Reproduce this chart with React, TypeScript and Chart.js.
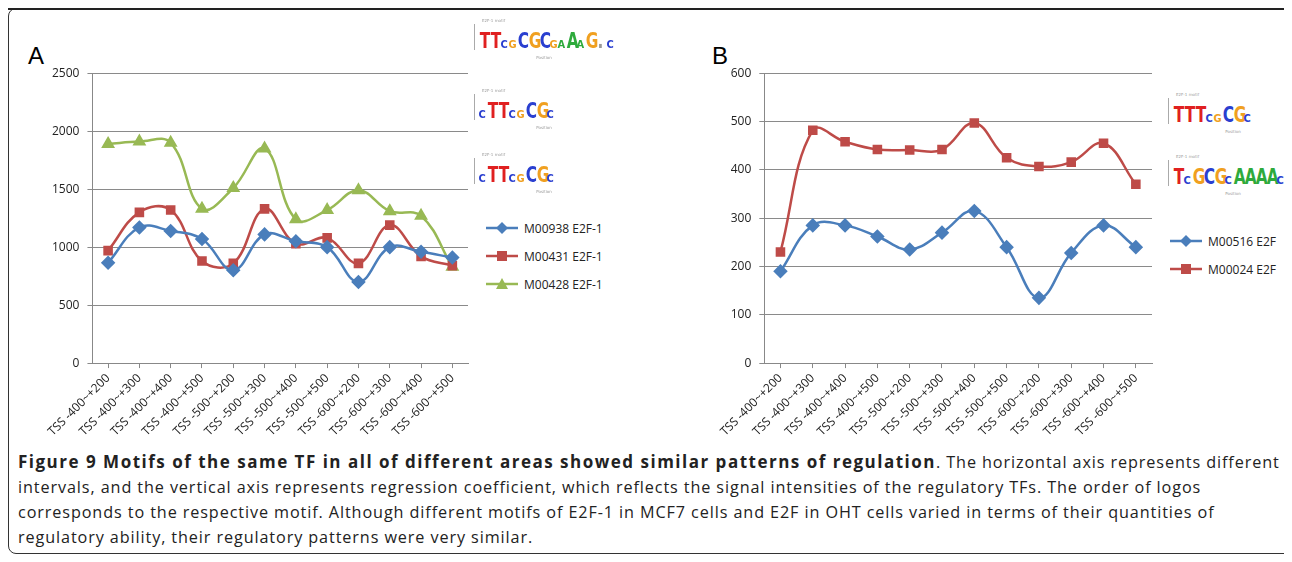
import { useEffect, useRef } from "react";
import { Chart } from "chart.js/auto";

const categories = [
  "TSS -400~+200", "TSS -400~+300", "TSS -400~+400", "TSS -400~+500",
  "TSS -500~+200", "TSS -500~+300", "TSS -500~+400", "TSS -500~+500",
  "TSS -600~+200", "TSS -600~+300", "TSS -600~+400", "TSS -600~+500",
];
const m00938 = [865, 1170, 1140, 1070, 800, 1110, 1050, 1000, 700, 1000, 960, 910];
const m00431 = [970, 1300, 1320, 880, 860, 1330, 1030, 1080, 860, 1190, 920, 840];
const m00428 = [1890, 1910, 1900, 1330, 1510, 1850, 1240, 1320, 1490, 1310, 1270, 830];
const m00516 = [190, 285, 285, 262, 235, 270, 315, 240, 135, 228, 285, 240];
const m00024 = [230, 482, 458, 442, 441, 442, 497, 425, 407, 416, 455, 370];

const BLUE = "#4a7ebb";
const RED = "#be4b48";
const GREEN = "#98b954";
const FONT = "'Open Sans', sans-serif";

type S = { label: string; data: number[]; color: string; point: "rectRot" | "rect" | "triangle" };

function LineChart({ series, max, step, style }: { series: S[]; max: number; step: number; style: React.CSSProperties }) {
  const ref = useRef<HTMLCanvasElement | null>(null);
  useEffect(() => {
    if (!ref.current) return;
    const chart = new Chart(ref.current, {
      type: "line",
      data: {
        labels: categories,
        datasets: series.map((s) => ({
          label: s.label,
          data: s.data,
          borderColor: s.color,
          backgroundColor: s.color,
          borderWidth: 2.5,
          tension: 0.4,
          pointStyle: s.point,
          pointRadius: s.point === "rect" ? 5 : 5.5,
        })),
      },
      options: {
        animation: false,
        responsive: false,
        layout: { padding: { top: 8, right: 4 } },
        plugins: { legend: { display: false }, tooltip: { enabled: false } },
        scales: {
          x: {
            offset: true,
            grid: { drawOnChartArea: false, color: "#888", tickLength: 5 },
            border: { color: "#888" },
            ticks: { color: "#222", font: { family: FONT, size: 12 }, maxRotation: 45, minRotation: 45 },
          },
          y: {
            min: 0,
            max,
            ticks: { stepSize: step, color: "#222", font: { family: FONT, size: 12 }, padding: 8, callback: (v) => String(v) },
            grid: { color: "#8a8a8a", tickLength: 5 },
            border: { color: "#888" },
          },
        },
      },
    });
    return () => chart.destroy();
  }, []);
  return <canvas ref={ref} width={style.width as number} height={style.height as number} style={{ position: "absolute", ...style }} />;
}

function Legend({ series, left, top }: { series: S[]; left: number; top: number }) {
  return (
    <div style={{ position: "absolute", left, top, fontFamily: FONT, fontSize: 12, color: "#222" }}>
      {series.map((s) => (
        <div key={s.label} style={{ display: "flex", alignItems: "center", height: 28 }}>
          <svg width="32" height="12" style={{ marginRight: 6 }}>
            <line x1="0" y1="6" x2="32" y2="6" stroke={s.color} strokeWidth="2.5" />
            {s.point === "rectRot" && <polygon points="16,0 22,6 16,12 10,6" fill={s.color} />}
            {s.point === "rect" && <rect x="11" y="1" width="10" height="10" fill={s.color} />}
            {s.point === "triangle" && <polygon points="16,0 22,11 10,11" fill={s.color} />}
          </svg>
          {s.label}
        </div>
      ))}
    </div>
  );
}

const LC = { A: "#2eaa3c", C: "#2a3fd0", G: "#f0a020", T: "#e02020" };
function Logo({ seq, left, top, width }: { seq: string; left: number; top: number; width: number }) {
  return (
    <div style={{ position: "absolute", left, top, width, height: 44, fontFamily: "DejaVu Sans", fontSize: 4, color: "#999" }}>
      <div style={{ position: "absolute", left: 8, top: 0 }}>E2F-1 motif</div>
      <div style={{ position: "absolute", left: 0, top: 6, width: 1, height: 26, background: "#aaa" }} />
      <div style={{ position: "absolute", left: 4, bottom: 12, display: "flex", alignItems: "flex-end", fontWeight: "bold", lineHeight: 0.8 }}>
        {seq.split("").map((c, i) => {
          const big = c === c.toUpperCase();
          return (
            <span key={i} style={{ color: (LC as any)[c.toUpperCase()], fontSize: big ? 22 : 11, transform: big ? "scaleX(0.7)" : "scaleX(0.9)", display: "inline-block", width: big ? 11 : 8, textAlign: "center" }}>
              {c.toUpperCase()}
            </span>
          );
        })}
      </div>
      <div style={{ position: "absolute", left: 0, right: 0, bottom: 2, textAlign: "center" }}>Position</div>
    </div>
  );
}

const seriesA: S[] = [
  { label: "M00938 E2F-1", data: m00938, color: BLUE, point: "rectRot" },
  { label: "M00431 E2F-1", data: m00431, color: RED, point: "rect" },
  { label: "M00428 E2F-1", data: m00428, color: GREEN, point: "triangle" },
];
const seriesB: S[] = [
  { label: "M00516 E2F", data: m00516, color: BLUE, point: "rectRot" },
  { label: "M00024 E2F", data: m00024, color: RED, point: "rect" },
];

export default function App() {
  return (
    <div style={{ position: "relative", width: 1276, height: 546, margin: 0 }}>
      <div style={{ position: "absolute", left: 0, top: 0, width: 1284, height: 546, border: "1px solid #333", borderRadius: 8, boxSizing: "border-box" }} />
      <div style={{ position: "absolute", left: 0, top: 0, width: 1284, height: 2, background: "#222" }} />
      <div style={{ position: "absolute", left: 20, top: 34, fontFamily: "Liberation Sans", fontSize: 24 }}>A</div>
      <div style={{ position: "absolute", left: 704, top: 34, fontFamily: "Liberation Sans", fontSize: 24 }}>B</div>
      <LineChart series={seriesA} max={2500} step={500} style={{ left: 36, top: 50, width: 432, height: 384 }} />
      <LineChart series={seriesB} max={600} step={100} style={{ left: 710, top: 50, width: 442, height: 384 }} />
      <Legend series={seriesA} left={478} top={206} />
      <Legend series={seriesB} left={1162} top={219} />
      <Logo seq="TTcgCGCgaAaG.c" left={466} top={10} width={140} />
      <Logo seq="cTTcgCGc" left={466} top={80} width={140} />
      <Logo seq="cTTcgCGc" left={466} top={144} width={140} />
      <Logo seq="TTTcgCGc" left={1160} top={84} width={130} />
      <Logo seq="TcGCGcAAAAc" left={1160} top={146} width={130} />
      <div style={{ position: "absolute", left: 10, top: 441, width: 1272, fontFamily: "'Open Sans', sans-serif", fontSize: 16.2, letterSpacing: 0.9, lineHeight: "25px", color: "#222" }}>
        <b style={{ fontSize: 17, letterSpacing: 1.5 }}>Figure 9 Motifs of the same TF in all of different areas showed similar patterns of regulation</b>. The horizontal axis represents different intervals, and the vertical axis represents regression coefficient, which reflects the signal intensities of the regulatory TFs. The order of logos corresponds to the respective motif. Although different motifs of E2F-1 in MCF7 cells and E2F in OHT cells varied in terms of their quantities of regulatory ability, their regulatory patterns were very similar.
      </div>
    </div>
  );
}
